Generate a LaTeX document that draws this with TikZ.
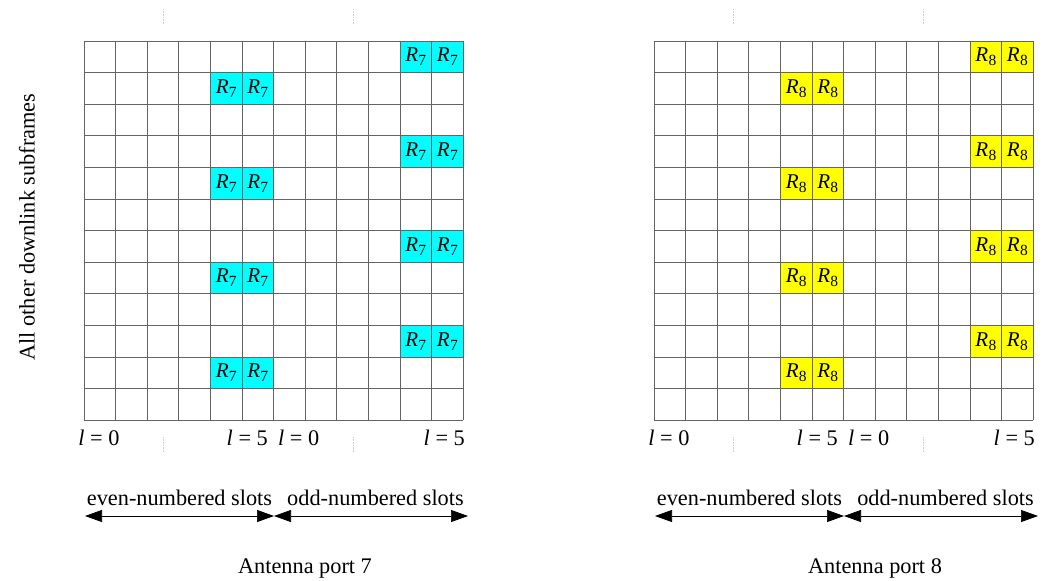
\documentclass[tikz,border=0pt]{standalone}
\usepackage{fontspec}
\setmainfont{Liberation Serif}
\usepackage{tikz}
\usetikzlibrary{calc,positioning,arrows.meta}
\definecolor{rscyan}{RGB}{0,255,255}
\definecolor{rsyellow}{RGB}{255,255,0}
\definecolor{gridgray}{RGB}{100,100,100}
\newcommand{\rsym}[1]{{\fontsize{21}{21}\selectfont\itshape R}\kern0.3pt\raisebox{-4pt}{\fontsize{15.5}{15.5}\selectfont #1}}
\newcommand{\lval}[1]{{\itshape l} = #1}

\begin{document}
\begin{tikzpicture}[x=1pt, y=-1pt,
  every node/.style={font=\fontsize{22.3}{26}\selectfont, inner sep=0pt},
  gridline/.style={draw=gridgray, line width=0.7pt},
  rcell/.style={draw=gridgray, line width=0.7pt, minimum size=31.6pt, fill=#1},
  faint/.style={draw=black!20, line width=0.6pt, densely dotted},
  slotarrow/.style={line width=0.7pt, {Triangle[length=17pt,width=12pt]}-{Triangle[length=17pt,width=12pt]}}]
  \useasboundingbox (0,0) rectangle (1047,581);

  % side label
  \node[rotate=90] (side) at (27,227) {All other downlink subframes};

  \foreach \px/\pn/\pc in {84/7/rscyan, 654/8/rsyellow} {
    \begin{scope}[shift={(\px,0)}]
      % faint marks
      \foreach \mx in {79,269} {
        \draw[faint] (\mx,9) -- (\mx,24);
        \draw[faint] (\mx,437) -- (\mx,452);
      }
      % shaded cells
      \foreach \r in {0,3,6,9} {
        \foreach \c in {10,11}
          \node[rcell=\pc] (c\pn-\r-\c) at ({(\c+0.5)*31.6},{41+(\r+0.5)*31.6}) {\rsym{\pn}};
      }
      \foreach \r in {1,4,7,10} {
        \foreach \c in {4,5}
          \node[rcell=\pc] (c\pn-\r-\c) at ({(\c+0.5)*31.6},{41+(\r+0.5)*31.6}) {\rsym{\pn}};
      }
      % grid
      \foreach \i in {0,...,12} {
        \draw[gridline] ({\i*31.6},41) -- ({\i*31.6},{41+12*31.6});
        \draw[gridline] (0,{41+\i*31.6}) -- ({12*31.6},{41+\i*31.6});
      }
      % symbol indices
      \node[anchor=base] (la\pn) at (15,445) {\lval{0}};
      \node[anchor=base east] (lb\pn) at (184,445) {\lval{5}};
      \node[anchor=base west] (lc\pn) at (194,445) {\lval{0}};
      \node[anchor=base east] (ld\pn) at (381,445) {\lval{5}};

      % slots
      \coordinate (sa\pn) at (1,516);
      \coordinate (sm\pn) at (190,516);
      \coordinate (sb\pn) at (384,516);
      \draw[slotarrow] (sa\pn) -- (sm\pn);
      \draw[slotarrow] (sm\pn) -- (sb\pn);
      \node[anchor=base] (ev\pn) at (95.5,505) {even-numbered slots};
      \node[anchor=base] (od\pn) at (291.5,505) {odd-numbered slots};

      % port name
      \node[anchor=base] (port\pn) at (221,573) {Antenna port \pn};
    \end{scope}
  }
\end{tikzpicture}
\end{document}
